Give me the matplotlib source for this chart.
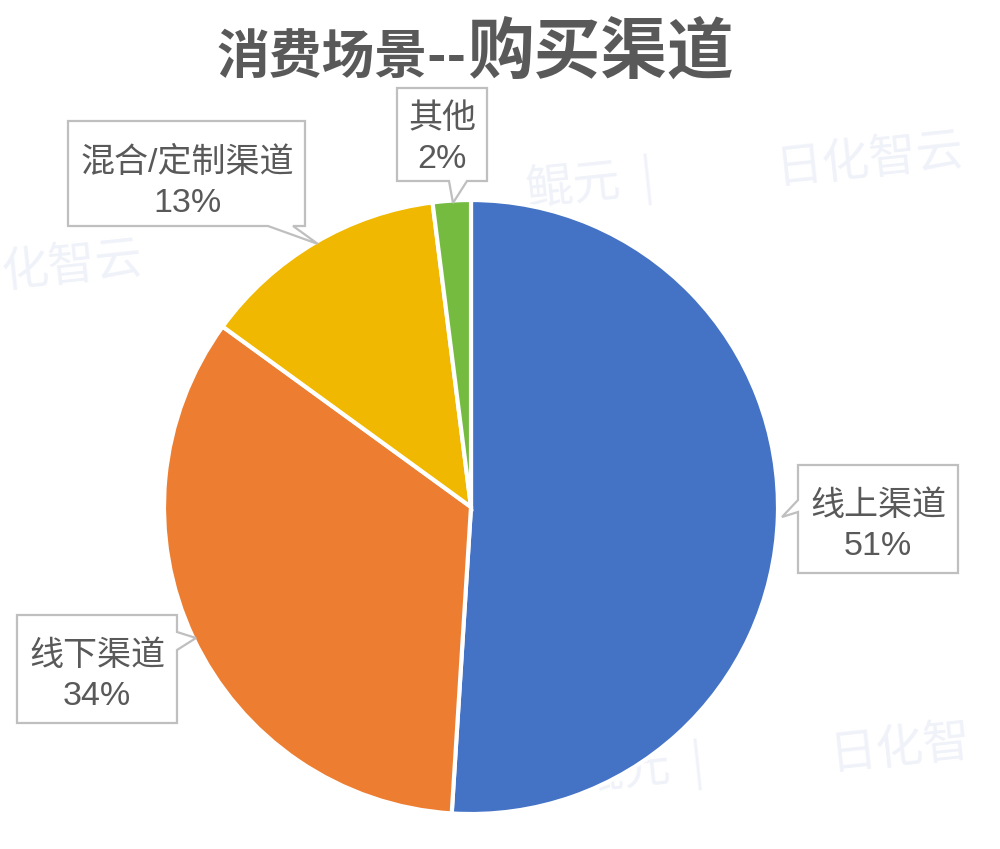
import matplotlib
matplotlib.use("Agg")
import matplotlib.pyplot as plt
from matplotlib.patches import Polygon

# data
channels = ['线上渠道', '线下渠道', '混合/定制渠道', '其他']
shares = [51, 34, 13, 2]
colors = ['#4472C4', '#ED7D31', '#F0B800', '#75BB40']
title_left = '消费场景--'
title_right = '购买渠道'

label_fonts = ['Liberation Sans', 'Noto Sans CJK SC', 'DejaVu Sans']
text_color = '#595959'
box_edge = '#BFBFBF'

fig = plt.figure(figsize=(10, 8.49), dpi=100)

# faint watermark layer
bg = fig.add_axes([0, 0, 1, 1])
bg.set_xlim(0, 1000)
bg.set_ylim(849, 0)
bg.axis('off')
wm = dict(color='#F0F2F9', fontsize=34, rotation=6, family=['Noto Sans CJK SC'],
          ha='center', va='center')
bg.text(590, 185, '鲲元  |', **wm)
bg.text(870, 160, '日化智云', **wm)
bg.text(72, 266, '化智云', **wm)
bg.text(640, 770, '鲲元  |', **wm)
bg.text(900, 748, '日化智', **wm)

# pie, centre at (471, 507) px, radius 307 px
ax = fig.add_axes([0.164, 0.0412, 0.614, 0.7232])
ax.set_zorder(1)
ax.pie(shares, colors=colors, startangle=90, counterclock=False, radius=1,
       wedgeprops=dict(edgecolor='white', linewidth=3))
ax.set_xlim(-1.0, 1.0)
ax.set_ylim(-1.0, 1.0)
ax.set_aspect('equal')
ax.axis('off')

# overlay in pixel coordinates for title and callouts
ov = fig.add_axes([0, 0, 1, 1])
ov.set_zorder(2)
ov.patch.set_alpha(0)
ov.set_xlim(0, 1000)
ov.set_ylim(849, 0)
ov.axis('off')

ov.text(466, 73, title_left, fontsize=38, fontweight='bold', color=text_color,
        family=['Noto Sans CJK SC'], ha='right', va='baseline')
ov.text(467, 73, title_right, fontsize=48, fontweight='bold', color=text_color,
        family=['Noto Sans CJK SC'], ha='left', va='baseline')

# callout outlines: box corners with a pointer notch
callouts = [
    # 线上渠道: pointer on left edge
    [(798, 465), (958, 465), (958, 573), (798, 573), (798, 512), (782, 517), (798, 500)],
    # 线下渠道: pointer on right edge
    [(17, 615), (177, 615), (177, 632), (196, 638), (177, 650), (177, 723), (17, 723)],
    # 混合/定制渠道: pointer on bottom edge
    [(68, 121), (305, 121), (305, 226), (293, 226), (318, 244), (268, 226), (68, 226)],
    # 其他: pointer on bottom edge
    [(397, 88), (487, 88), (487, 181), (467, 181), (453, 203), (449, 181), (397, 181)],
]
text_pos = [(878, 526), (97, 676), (187, 183), (442, 139)]

for poly, (tx, ty), name, val in zip(callouts, text_pos, channels, shares):
    ov.add_patch(Polygon(poly, closed=True, facecolor='white', edgecolor=box_edge,
                         linewidth=1.6, joinstyle='miter'))
    ov.text(tx, ty, f'{name}\n{val}%', fontsize=24.5, color=text_color,
            family=label_fonts, ha='center', va='center', linespacing=1.4)

fig.savefig('out.png', dpi=100)
